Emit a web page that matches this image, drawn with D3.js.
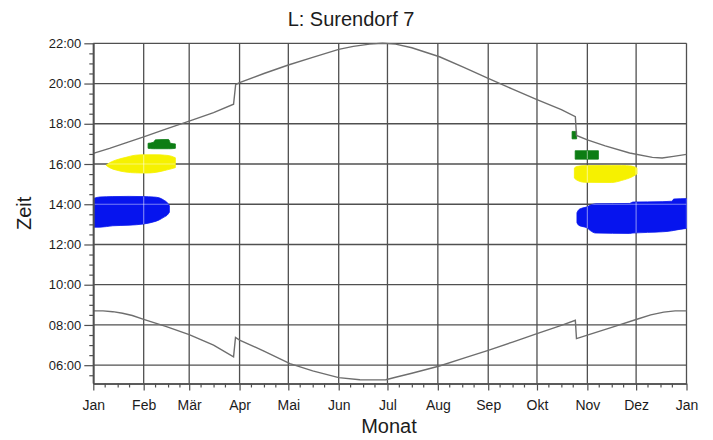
<!DOCTYPE html>
<html>
<head>
<meta charset="utf-8">
<script src="https://cdn.jsdelivr.net/npm/d3@7"></script>
<style>
  html, body { margin: 0; padding: 0; background: #ffffff; }
  svg { display: block; font-family: "Liberation Sans", Arial, sans-serif; }
</style>
</head>
<body>
<script>
// ---------- data ----------
const monthLabels = ["Jan","Feb","Mär","Apr","Mai","Jun","Jul","Aug","Sep","Okt","Nov","Dez","Jan"];
const hourTicks = [6, 8, 10, 12, 14, 16, 18, 20, 22];

// sunset line (day of year, hour)
const sunsetDays  = [0, 10, 20, 31, 45, 59, 74, 86.3, 87.6, 90, 105, 120, 135, 151, 160, 170, 178, 186, 196, 213, 228, 243, 258, 273, 288, 296.6, 297.3, 304, 315, 330, 344, 350, 357, 365];
const sunsetHours = [16.53, 16.78, 17.05, 17.35, 17.75, 18.13, 18.55, 18.97, 19.95, 20.05, 20.5, 20.92, 21.3, 21.7, 21.85, 21.96, 22.0, 21.96, 21.78, 21.33, 20.8, 20.26, 19.72, 19.2, 18.7, 18.35, 17.42, 17.2, 16.9, 16.55, 16.33, 16.3, 16.38, 16.48];

// sunrise line (day of year, hour)
const sunriseDays  = [0, 6, 12, 18, 24, 31, 45, 59, 74, 86.3, 87.5, 90, 105, 121, 135, 151, 164, 172, 180, 186, 196, 213, 228, 243, 258, 273, 288, 296.6, 297.3, 303.5, 319, 334, 343, 351, 358, 365];
const sunriseHours = [8.70, 8.70, 8.66, 8.58, 8.47, 8.28, 7.92, 7.52, 7.0, 6.41, 7.38, 7.25, 6.7, 6.08, 5.72, 5.38, 5.28, 5.27, 5.28, 5.4, 5.6, 5.96, 6.35, 6.74, 7.15, 7.57, 7.98, 8.23, 7.32, 7.48, 7.88, 8.27, 8.5, 8.64, 8.7, 8.7];

// shadow periods: [day of year, from hour, to hour]
const blueWinterStart = [[0.5, 12.86, 14.3], [4, 12.86, 14.36], [12, 12.93, 14.38], [22, 12.96, 14.39], [31, 13.02, 14.38], [37, 13.12, 14.36], [40.5, 13.22, 14.32], [43.5, 13.36, 14.2], [45.5, 13.46, 14.08], [46.8, 13.6, 13.92]];
const yellowWinterStart = [[8, 15.93, 15.95], [10, 15.82, 16.06], [14, 15.7, 16.2], [20, 15.6, 16.33], [26, 15.56, 16.44], [32, 15.55, 16.46], [38, 15.58, 16.46], [44, 15.68, 16.44], [48, 15.76, 16.39], [50.5, 15.82, 16.31]];
const greenWinterStart = [[33.7, 16.78, 17.03], [37, 16.76, 17.08], [38.3, 16.76, 17.2], [46.3, 16.76, 17.22], [47.6, 16.76, 17.03], [50.5, 16.78, 17.0]];
const greenAutumnDot = [[294.6, 17.25, 17.62], [297.4, 17.25, 17.62]];
const greenAutumn = [[296.5, 16.24, 16.66], [310.8, 16.24, 16.66]];
const yellowAutumn = [[296, 15.3, 15.8], [297.5, 15.2, 15.88], [302.5, 15.09, 15.92], [319, 15.08, 15.93], [325, 15.18, 15.93], [331, 15.34, 15.9], [334.5, 15.5, 15.8]];
const blueAutumn = [[297.6, 13.08, 13.58], [298.6, 12.96, 13.72], [300.5, 12.9, 13.8], [303.5, 12.84, 13.86], [306, 12.68, 13.96], [309, 12.57, 14.02], [330, 12.55, 14.04], [332, 12.57, 14.11], [350, 12.63, 14.13], [356, 12.68, 14.15], [357.2, 12.7, 14.26], [365, 12.8, 14.28]];

// ---------- layout ----------
const W = 713, H = 440;
const L = 93.3, R = 686.5, T = 43.3, B = 383.5;
const DAY = 86400000, Y0 = Date.UTC(2011, 0, 1);
const toDate = d => new Date(Y0 + d * DAY);

const x = d3.scaleUtc().domain([new Date(Y0), new Date(Date.UTC(2012, 0, 1))]).range([L, R]);
const y = d3.scaleLinear().domain([5.09, 22]).range([B, T]);

const monthTicks = d3.range(13).map(m => new Date(Date.UTC(2011, m, 1)));
const minorX = [];
for (let m = 0; m < 12; m++) [8, 16, 23].forEach(d => minorX.push(new Date(Date.UTC(2011, m, d))));
const minorY = d3.range(5.5, 22, 0.5).filter(v => v % 2 !== 0);

const svg = d3.select("body").append("svg").attr("width", W).attr("height", H);
const gridColor = "#505050";
const textColor = "#1c1c1c";

// grid
const grid = svg.append("g");
grid.selectAll("line.h").data(hourTicks).join("line")
  .attr("x1", L).attr("x2", R).attr("y1", d => y(d)).attr("y2", d => y(d))
  .attr("stroke", gridColor).attr("stroke-width", 1.3);
grid.selectAll("line.v").data(monthTicks).join("line")
  .attr("x1", d => x(d)).attr("x2", d => x(d)).attr("y1", T).attr("y2", B)
  .attr("stroke", gridColor).attr("stroke-width", 1.3);

// blobs
const area = d3.area()
  .x(d => x(toDate(d[0])))
  .y0(d => y(d[1]))
  .y1(d => y(d[2]))
  .curve(d3.curveMonotoneX);

const blobs = [
  { data: blueWinterStart, color: "#0614ee" },
  { data: yellowWinterStart, color: "#f6f100" },
  { data: greenWinterStart, color: "#0d7d14" },
  { data: greenAutumnDot, color: "#0d7d14" },
  { data: greenAutumn, color: "#0d7d14" },
  { data: yellowAutumn, color: "#f6f100" },
  { data: blueAutumn, color: "#0614ee" }
];
const defs = svg.append("defs");
const clip = defs.append("clipPath").attr("id", "blobclip");
clip.selectAll("path").data(blobs).join("path").attr("d", d => area(d.data));

svg.append("g").selectAll("path").data(blobs).join("path")
  .attr("d", d => area(d.data))
  .attr("fill", d => d.color)
  .attr("stroke", d => d.color)
  .attr("stroke-width", 0.8);

// grid showing faintly through blobs
const grid2 = svg.append("g").attr("clip-path", "url(#blobclip)");
grid2.selectAll("line.h").data(hourTicks).join("line")
  .attr("x1", L).attr("x2", R).attr("y1", d => y(d)).attr("y2", d => y(d))
  .attr("stroke", "#ffffff").attr("stroke-opacity", 0.45).attr("stroke-width", 1.2);
grid2.selectAll("line.v").data(monthTicks).join("line")
  .attr("x1", d => x(d)).attr("x2", d => x(d)).attr("y1", T).attr("y2", B)
  .attr("stroke", "#ffffff").attr("stroke-opacity", 0.45).attr("stroke-width", 1.2);

// sunrise / sunset lines
const line = d3.line().x(d => x(toDate(d[0]))).y(d => y(d[1])).curve(d3.curveLinear);
const sunset = sunsetDays.map((d, i) => [d, sunsetHours[i]]);
const sunrise = sunriseDays.map((d, i) => [d, sunriseHours[i]]);
svg.append("g").selectAll("path").data([sunset, sunrise]).join("path")
  .attr("d", line)
  .attr("fill", "none")
  .attr("stroke", "#6e6e6e")
  .attr("stroke-width", 1.4);

// axes
const xAxis = svg.append("g").attr("transform", `translate(0,${B})`)
  .call(d3.axisBottom(x).tickValues(monthTicks).tickFormat((d, i) => monthLabels[i])
    .tickSize(7).tickSizeOuter(0).tickPadding(9.5));
const xMinor = svg.append("g").attr("transform", `translate(0,${B})`)
  .call(d3.axisBottom(x).tickValues(minorX).tickFormat("").tickSize(4).tickSizeOuter(0));
const yAxis = svg.append("g").attr("transform", `translate(${L},0)`)
  .call(d3.axisLeft(y).tickValues(hourTicks).tickFormat(d => String(d).padStart(2, "0") + ":00")
    .tickSize(9).tickSizeOuter(0).tickPadding(3));
const yMinor = svg.append("g").attr("transform", `translate(${L},0)`)
  .call(d3.axisLeft(y).tickValues(minorY).tickFormat("").tickSize(4).tickSizeOuter(0));

[xAxis, xMinor, yAxis, yMinor].forEach(g => {
  g.selectAll("path.domain").attr("stroke", gridColor).attr("stroke-width", 1.3);
  g.selectAll(".tick line").attr("stroke", gridColor).attr("stroke-width", 1.2);
  g.selectAll(".tick text").attr("fill", textColor).attr("font-family", "Liberation Sans, Arial, sans-serif");
});
xAxis.selectAll(".tick text").attr("font-size", 14);
yAxis.selectAll(".tick text").attr("font-size", 13);

// titles
svg.append("text").attr("x", 351).attr("y", 26).attr("text-anchor", "middle")
  .attr("font-size", 20).attr("fill", textColor).text("L: Surendorf 7");
svg.append("text").attr("x", 389).attr("y", 433).attr("text-anchor", "middle")
  .attr("font-size", 20).attr("fill", textColor).text("Monat");
svg.append("text").attr("transform", `translate(31,${(T + B) / 2}) rotate(-90)`).attr("text-anchor", "middle")
  .attr("font-size", 20).attr("fill", textColor).text("Zeit");
</script>
</body>
</html>
